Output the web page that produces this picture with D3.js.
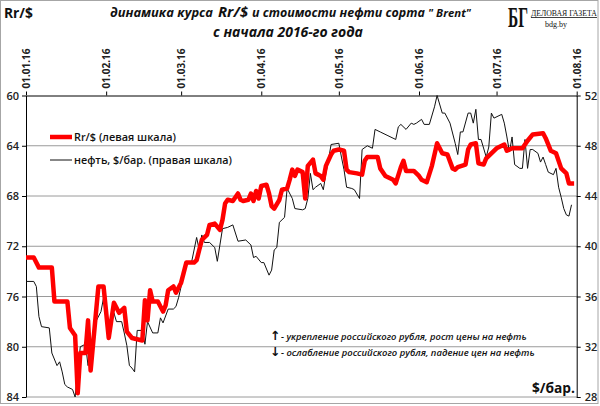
<!DOCTYPE html>
<html>
<head>
<meta charset="utf-8">
<script src="https://cdn.jsdelivr.net/npm/d3@7"></script>
<style>
  body { margin: 0; background: #fff; }
  svg { display: block; font-family: "Open Sans", sans-serif; }
</style>
</head>
<body>
<svg id="chart" width="600" height="406"></svg>
<script>
// курс рубля, руб. за доллар (левая шкала)
const rubDates = [
  "01-01","01-04","01-06","01-11","01-12","01-17","01-18","01-20","01-21","01-22","01-24","01-25","01-26","01-29","01-31",
  "02-02","02-04","02-06","02-08","02-09","02-11","02-15","02-16","02-17","02-18","02-19","02-21","02-23","02-24","02-25","02-27","02-28",
  "03-01","03-02","03-03","03-06","03-07","03-08","03-09","03-11","03-12","03-14","03-16","03-17","03-18","03-19","03-21","03-23","03-24","03-25","03-27","03-28","03-29","03-30","03-31",
  "04-01","04-03","04-04","04-05","04-06","04-08","04-09","04-11","04-12","04-13","04-14","04-15","04-17","04-18","04-19","04-21","04-22","04-23","04-24","04-25","04-26","04-28","04-29",
  "05-01","05-03","05-04","05-05","05-08","05-10","05-11","05-12","05-16","05-17","05-19","05-22","05-23","05-25","05-26","05-27","05-30",
  "06-01","06-02","06-04","06-06","06-08","06-10","06-12","06-14","06-15","06-16","06-19","06-20","06-21","06-23","06-24","06-26","06-27","06-29",
  "07-01","07-04","07-05","07-07","07-11","07-13","07-15","07-19","07-20","07-22","07-24","07-26","07-28","07-29","07-31"
];
const rubValues = [
  72.9,72.9,73.7,73.7,76.4,76.4,78.5,79.1,83.7,80.5,80.5,77.9,81.9,75.2,75.2,
  79.3,76.5,77.3,76.9,78.8,79.3,79.5,76.3,77.9,75.5,76.4,76.4,77.2,76.7,75.5,75.2,75.7,
  74.9,74.1,73.3,73.3,73.1,72.3,71.5,71.1,70.3,70.2,70.7,69.9,68.6,68.3,68.4,67.8,68.3,68.4,68.3,67.8,68.4,67.6,68.2,
  67.2,67.1,67.8,68.8,69.0,68.3,67.5,67.4,66.7,65.9,66.4,65.9,66.1,68.2,65.6,65.1,66.2,66.3,66.4,66.7,65.6,64.7,64.4,
  64.3,64.4,65.9,66.1,66.2,66.3,65.2,64.9,64.9,65.8,66.4,66.7,67.0,65.7,65.2,66.0,66.0,
  66.4,66.7,66.9,65.6,63.8,64.6,64.7,65.8,65.9,65.7,65.5,64.3,63.9,63.8,65.4,65.5,65.0,64.6,
  64.2,63.9,64.4,64.2,64.2,63.6,63.1,63.0,63.4,64.4,64.6,65.8,66.2,67.0,67.0
];

// нефть Brent, $/бар. (правая шкала)
const oilDates = [
  "01-01","01-04","01-05","01-06","01-07","01-10","01-11","01-13","01-14","01-15","01-16","01-17","01-19","01-20","01-22","01-24","01-25","01-27","01-28","01-30","01-31",
  "02-01","02-02","02-04","02-05","02-07","02-08","02-09","02-10","02-11","02-12","02-13","02-15","02-16","02-17","02-19","02-21","02-22","02-23","02-25","02-27","02-28","02-29",
  "03-01","03-02","03-03","03-05","03-06","03-07","03-08","03-09","03-10","03-12","03-14","03-15","03-17","03-19","03-21","03-23","03-26","03-28","03-29","03-30",
  "04-01","04-02","04-04","04-05","04-06","04-07","04-08","04-10","04-11","04-13","04-14","04-17","04-18","04-19","04-20","04-21","04-22","04-24","04-25","04-26","04-27","04-28",
  "05-01","05-02","05-03","05-04","05-06","05-07","05-09","05-10","05-12","05-14","05-15","05-17","05-20","05-23","05-24","05-25","05-27","05-29","05-30","05-31",
  "06-02","06-03","06-05","06-07","06-08","06-10","06-11","06-13","06-15","06-16","06-17","06-18","06-20","06-21","06-22","06-23","06-24","06-25","06-27","06-28","06-29","06-30",
  "07-03","07-04","07-05","07-06","07-07","07-08","07-10","07-11","07-12","07-13","07-14","07-15","07-17","07-18","07-19","07-20","07-21","07-23","07-24","07-25","07-26","07-27","07-28","07-29","07-30"
];
const oilValues = [
  37.2,37.2,36.8,34.4,33.6,33.5,31.5,30.5,30.8,30.0,29.0,28.8,28.6,28.0,32.0,32.2,30.5,32.8,34.0,34.8,35.9,
  34.9,32.7,34.7,34.0,34.0,33.1,32.1,30.5,30.3,30.0,33.3,33.3,32.2,34.0,33.1,33.1,34.3,33.9,35.0,35.0,35.2,35.9,
  36.8,37.6,38.7,38.7,39.7,40.7,39.7,40.9,40.3,40.3,39.9,38.8,41.4,41.5,41.7,40.4,40.5,40.1,39.1,39.2,
  38.7,38.7,37.7,38.1,39.7,39.9,41.9,42.3,44.6,43.8,43.0,42.9,43.0,43.8,45.8,44.5,44.7,45.0,44.5,45.8,46.9,48.1,
  48.2,47.1,46.1,44.7,44.6,44.5,43.8,47.7,48.0,47.8,49.3,49.1,48.8,48.5,49.5,49.7,49.3,49.8,49.7,49.8,
  50.1,49.7,49.7,51.1,52.0,50.6,50.6,49.8,48.2,47.3,49.1,49.1,50.6,50.6,49.8,50.9,48.5,48.5,47.1,47.9,50.6,50.2,
  50.5,49.8,48.7,47.5,48.7,46.5,46.2,46.2,48.5,46.2,47.7,47.7,47.4,46.7,47.1,46.5,45.9,45.7,46.2,44.7,43.9,43.0,42.5,42.4,43.3
];

const monthTicks = ["01-01","02-01","03-01","04-01","05-01","06-01","07-01","08-01"];
const leftTicks = [60, 64, 68, 72, 76, 80, 84];
const rightTicks = [52, 48, 44, 40, 36, 32, 28];

const parseDay = d3.timeParse("%Y-%m-%d");
const toDate = s => parseDay("2016-" + s);
const fmtTick = d3.timeFormat("%d.%m.%y");

const rub = rubDates.map((d, i) => ({ date: toDate(d), value: rubValues[i] }));
const oil = oilDates.map((d, i) => ({ date: toDate(d), value: oilValues[i] }));

const plot = { left: 26, right: 576.7, top: 95.5, bottom: 397 };

const svg = d3.select("#chart");

// подгоняет размер шрифта под ширину текста на картинке
function fitWidth(sel, target) {
    sel.each(function () {
        const fs = parseFloat(this.getAttribute("font-size"));
        const w = this.getComputedTextLength();
        if (w > 0) this.setAttribute("font-size", (fs * target / w).toFixed(2));
    });
    return sel;
}

// рамка картинки
svg.append("rect")
    .attr("x", 0.5).attr("y", 0.5)
    .attr("width", 597.5).attr("height", 403)
    .attr("fill", "#fff")
    .attr("stroke", "#a6a6a6");

const x = d3.scaleTime()
    .domain([toDate(monthTicks[0]), toDate(monthTicks[monthTicks.length - 1])])
    .range([plot.left, plot.right]);

const yLeft = d3.scaleLinear().domain([60, 84]).range([plot.top, plot.bottom]);
const yRight = d3.scaleLinear().domain([52, 28]).range([plot.top, plot.bottom]);

// сетка
svg.append("g")
    .selectAll("line")
    .data(leftTicks.slice(1))
    .enter().append("line")
    .attr("x1", plot.left).attr("x2", plot.right)
    .attr("y1", d => yLeft(d)).attr("y2", d => yLeft(d))
    .attr("stroke", "#9a9a9a")
    .attr("stroke-width", 1);

// оси
const axisL = svg.append("g")
    .attr("transform", `translate(${plot.left},0)`)
    .call(d3.axisLeft(yLeft).tickValues(leftTicks).tickSize(4).tickSizeOuter(0).tickPadding(3));

const axisR = svg.append("g")
    .attr("transform", `translate(${plot.right},0)`)
    .call(d3.axisRight(yRight).tickValues(rightTicks).tickSize(4).tickSizeOuter(0).tickPadding(4));

const axisT = svg.append("g")
    .attr("transform", `translate(0,${plot.top})`)
    .call(d3.axisTop(x).tickValues(monthTicks.map(toDate)).tickFormat(fmtTick).tickSize(4).tickSizeOuter(0));

axisT.selectAll("text")
    .attr("transform", "rotate(-90)")
    .attr("x", 7)
    .attr("y", 0)
    .attr("dy", "0.36em")
    .attr("text-anchor", "start")
    .attr("font-weight", "bold")
    .attr("font-size", 10);

[axisL, axisR, axisT].forEach(g => {
    g.attr("font-family", "Open Sans, sans-serif");
    g.selectAll("path.domain").attr("stroke", "#000");
    g.selectAll(".tick line").attr("stroke", "#000");
    g.selectAll("text").attr("fill", "#222");
});
axisL.selectAll("text").attr("font-size", 11).attr("font-weight", 600);
axisR.selectAll("text").attr("font-size", 11).attr("font-weight", 600);

// линии данных
svg.append("path")
    .datum(oil)
    .attr("fill", "none")
    .attr("stroke", "#111")
    .attr("stroke-width", 1)
    .attr("d", d3.line().x(d => x(d.date)).y(d => yRight(d.value)));

svg.append("path")
    .datum(rub)
    .attr("fill", "none")
    .attr("stroke", "#ff0000")
    .attr("stroke-width", 4.5)
    .attr("stroke-linejoin", "round")
    .attr("d", d3.line().x(d => x(d.date)).y(d => yLeft(d.value)));

// легенда
svg.append("line")
    .attr("x1", 50).attr("x2", 72).attr("y1", 137).attr("y2", 137)
    .attr("stroke", "#ff0000").attr("stroke-width", 4.5);
svg.append("line")
    .attr("x1", 50).attr("x2", 72).attr("y1", 160).attr("y2", 160)
    .attr("stroke", "#111").attr("stroke-width", 1);

fitWidth(svg.append("text")
    .attr("x", 74).attr("y", 141)
    .attr("font-size", 12.5).attr("font-weight", 600).attr("fill", "#111")
    .text("Rr/$  (левая шкала)"), 102);
fitWidth(svg.append("text")
    .attr("x", 74).attr("y", 164)
    .attr("font-size", 12.5).attr("font-weight", 600).attr("fill", "#111")
    .text("нефть, $/бар. (правая шкала)"), 158);

// заголовки
fitWidth(svg.append("text")
    .attr("x", 4).attr("y", 18)
    .attr("font-size", 15).attr("font-weight", "bold").attr("fill", "#111")
    .text("Rr/$"), 29);

const titleParts = [
    { text: "динамика  курса", x: 110, len: 103, size: 14 },
    { text: "Rr/$", x: 218, len: 30, size: 16 },
    { text: "и стоимости нефти сорта", x: 252, len: 173, size: 12 },
    { text: "\" Brent\"", x: 428, len: 43, size: 13 }
];
svg.append("g")
    .selectAll("text")
    .data(titleParts)
    .enter().append("text")
    .attr("x", d => d.x).attr("y", 16.5)
    .attr("font-size", d => d.size)
    .attr("font-weight", "bold").attr("font-style", "italic").attr("fill", "#111")
    .text(d => d.text)
    .each(function (d) { fitWidth(d3.select(this), d.len); });

fitWidth(svg.append("text")
    .attr("x", 213).attr("y", 37)
    .attr("font-size", 16).attr("font-weight", "bold").attr("font-style", "italic").attr("fill", "#111")
    .text("с начала 2016-го года"), 150);

// пояснения
const notes = [
    { arrow: "↑", text: "- укрепление российского рубля, рост цены на нефть", y: 340, len: 246 },
    { arrow: "↓", text: "- ослабление российского рубля, падение цен на нефть", y: 356, len: 254 }
];
notes.forEach(n => {
    svg.append("text")
        .attr("x", 270).attr("y", n.y)
        .attr("font-family", "DejaVu Sans, sans-serif")
        .attr("font-size", 12.5).attr("font-weight", "bold").attr("fill", "#111")
        .text(n.arrow);
    fitWidth(svg.append("text")
        .attr("x", 281).attr("y", n.y)
        .attr("font-size", 12).attr("font-weight", 600).attr("font-style", "italic").attr("fill", "#111")
        .text(n.text), n.len);
});

fitWidth(svg.append("text")
    .attr("x", 532).attr("y", 393)
    .attr("font-size", 16).attr("font-weight", "bold").attr("fill", "#111")
    .text("$/бар."), 43);

// логотип
const logo = svg.append("text")
    .attr("x", 508).attr("y", 27)
    .attr("font-family", "Liberation Serif, serif")
    .attr("font-size", 29).attr("font-weight", "bold").attr("fill", "#111")
    .text("БГ");
const logoW = logo.node().getComputedTextLength();
logo.attr("transform", `translate(508,0) scale(${20 / logoW},1) translate(-508,0)`);

fitWidth(svg.append("text")
    .attr("x", 531).attr("y", 15.5)
    .attr("font-family", "Liberation Serif, serif")
    .attr("font-size", 8).attr("fill", "#111")
    .text("ДЕЛОВАЯ ГАЗЕТА"), 66);
svg.append("line")
    .attr("x1", 531).attr("x2", 597).attr("y1", 17.5).attr("y2", 17.5)
    .attr("stroke", "#111").attr("stroke-width", 0.8);
fitWidth(svg.append("text")
    .attr("x", 545).attr("y", 26.5)
    .attr("font-family", "Liberation Serif, serif")
    .attr("font-size", 8).attr("fill", "#111")
    .text("bdg.by"), 22);
</script>
</body>
</html>
